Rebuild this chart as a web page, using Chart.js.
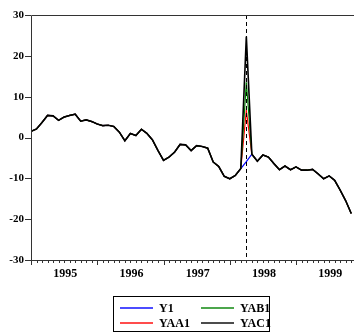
<!DOCTYPE html>
<html>
<head>
<meta charset="utf-8">
<script src="https://cdn.jsdelivr.net/npm/chart.js@4.4.0/dist/chart.umd.min.js"></script>
<style>
  body { margin: 0; background: #fff; overflow: hidden; }
  #wrap { position: relative; width: 354px; height: 333px; }
  #legend { position: absolute; left: 113px; top: 296px; width: 155px; height: 34px;
            border: 1px solid #000; font: bold 12px "Liberation Serif", serif; color: #000; }
  #legend .ln { position: absolute; width: 33px; height: 2px; opacity: 0.7; }
  #legend .tx { position: absolute; line-height: 12px; }
</style>
</head>
<body>
<div id="wrap">
  <canvas id="chart" width="354" height="333"></canvas>
  <div id="legend"></div>
</div>
<script>
// monthly series, 1995M1 .. 1999M11
const yearLabels = ['1995', '1996', '1997', '1998', '1999'];
const yearStarts = [0, 12, 24, 36, 48];
const yTicks = [-30, -20, -10, 0, 10, 20, 30];

const y1 = [1.5, 2.1, 3.7, 5.4, 5.3, 4.2, 5.0, 5.4, 5.7, 4.0, 4.3, 3.9,
            3.3, 2.9, 3.0, 2.7, 1.3, -0.8, 1.0, 0.5, 2.0, 1.0, -0.6, -3.2,
            -5.6, -4.8, -3.6, -1.7, -1.8, -3.2, -2.0, -2.2, -2.6, -6.0, -7.1, -9.5,
            -10.1, -9.3, -7.6, -5.9, -4.1, -5.8, -4.3, -4.8, -6.4, -7.9, -7.0, -7.9,
            -7.2, -8.0, -8.0, -7.8, -8.9, -10.1, -9.4, -10.5, -12.9, -15.5, -18.6];

// shock month (1998M4) and the value each adjusted series takes there
const shockMonth = 39;
const seriesNames = ['Y1', 'YAA1', 'YAB1', 'YAC1'];
const shockValues = [-5.9, 6.6, 13.5, 24.7];
const seriesColors = ['#0000ff', '#ff0000', '#008000', '#000000'];

function buildSeries(k) {
    return y1.map((v, i) => ({ x: i, y: i === shockMonth ? shockValues[k] : v }));
}

const serif = '"Liberation Serif", "Times New Roman", serif';

const extras = {
    id: 'extras',
    afterDatasetsDraw(chart) {
        const ctx = chart.ctx;
        const a = chart.chartArea;
        const xs = chart.scales.x;
        const ys = chart.scales.y;
        ctx.save();
        // dashed marker line
        const xm = Math.round(xs.getPixelForValue(shockMonth)) + 0.5;
        ctx.strokeStyle = '#000';
        ctx.lineWidth = 1;
        ctx.setLineDash([4, 3]);
        ctx.beginPath();
        ctx.moveTo(xm, a.top);
        ctx.lineTo(xm, a.bottom);
        ctx.stroke();
        ctx.setLineDash([]);
        // frame
        ctx.strokeStyle = '#333';
        ctx.beginPath();
        ctx.moveTo(a.right, a.top + 0.5);
        ctx.lineTo(a.left + 0.5, a.top + 0.5);
        ctx.lineTo(a.left + 0.5, a.bottom + 0.5);
        ctx.lineTo(a.right, a.bottom + 0.5);
        ctx.stroke();
        // y ticks
        yTicks.forEach(v => {
            const y = Math.round(ys.getPixelForValue(v)) + 0.5;
            ctx.beginPath();
            ctx.moveTo(a.left - 6, y);
            ctx.lineTo(a.left, y);
            ctx.stroke();
        });
        // monthly x ticks, longer at year starts
        for (let i = 0; i <= 58; i++) {
            const x = Math.round(xs.getPixelForValue(i)) + 0.5;
            const len = yearStarts.includes(i) ? 5 : 3;
            ctx.beginPath();
            ctx.moveTo(x, a.bottom);
            ctx.lineTo(x, a.bottom + len);
            ctx.stroke();
        }
        ctx.restore();
    }
};

new Chart(document.getElementById('chart'), {
    type: 'line',
    data: {
        datasets: seriesNames.map((name, k) => ({
            label: name,
            data: buildSeries(k),
            borderColor: seriesColors[k],
            borderWidth: k === 3 ? 1.6 : 1.2,
            pointRadius: 0,
            tension: 0,
            fill: false,
            order: 4 - k
        }))
    },
    options: {
        responsive: false,
        animation: false,
        layout: { padding: { top: 15, right: 0, left: 0, bottom: 0 } },
        plugins: { legend: { display: false }, tooltip: { enabled: false } },
        scales: {
            x: {
                type: 'linear',
                min: 0,
                max: 58.5,
                grid: { display: false, drawTicks: false },
                border: { display: false },
                afterBuildTicks: s => { s.ticks = yearStarts.map(v => ({ value: v + 6.2 })); },
                afterFit: s => { s.height = 73; },
                ticks: {
                    callback: (v, i) => yearLabels[i],
                    padding: 7,
                    autoSkip: false,
                    maxRotation: 0,
                    color: '#000',
                    font: { family: serif, size: 12, weight: 'bold' }
                }
            },
            y: {
                min: -30,
                max: 30,
                grid: { display: false, drawTicks: false },
                border: { display: false },
                afterBuildTicks: s => { s.ticks = yTicks.map(v => ({ value: v })); },
                afterFit: s => { s.width = 31; },
                ticks: {
                    padding: 7,
                    color: '#000',
                    font: { family: serif, size: 11, weight: 'bold' }
                }
            }
        }
    },
    plugins: [extras]
});

// legend box, two columns
const legend = document.getElementById('legend');
const slots = [[6, 10], [6, 25], [87, 10], [87, 25]]; // Y1, YAA1, YAB1, YAC1
seriesNames.forEach((name, k) => {
    const [lx, ly] = slots[k];
    const ln = document.createElement('div');
    ln.className = 'ln';
    ln.style.left = lx + 'px';
    ln.style.top = ly + 'px';
    ln.style.background = seriesColors[k];
    legend.appendChild(ln);
    const tx = document.createElement('div');
    tx.className = 'tx';
    tx.style.left = (lx + 39) + 'px';
    tx.style.top = (ly - 5) + 'px';
    tx.textContent = name;
    legend.appendChild(tx);
});
</script>
</body>
</html>
